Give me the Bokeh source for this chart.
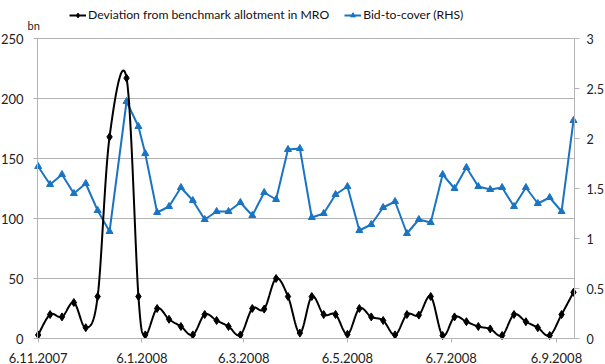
import numpy as np
import pandas as pd
from bokeh.plotting import figure
from bokeh.models import (ColumnDataSource, Range1d, LinearAxis, FixedTicker,
                          NumeralTickFormatter, Legend, LegendItem, Label)
from bokeh.embed import file_html
from bokeh.resources import INLINE

# Weekly main refinancing operations (MRO)
dates = [
    "2007-11-06", "2007-11-13", "2007-11-20", "2007-11-27", "2007-12-04", "2007-12-11",
    "2007-12-18", "2007-12-28", "2008-01-04", "2008-01-08", "2008-01-15", "2008-01-22",
    "2008-01-29", "2008-02-05", "2008-02-12", "2008-02-19", "2008-02-26", "2008-03-04",
    "2008-03-11", "2008-03-18", "2008-03-25", "2008-04-01", "2008-04-08", "2008-04-15",
    "2008-04-22", "2008-04-29", "2008-05-06", "2008-05-13", "2008-05-20", "2008-05-27",
    "2008-06-03", "2008-06-10", "2008-06-17", "2008-06-24", "2008-07-01", "2008-07-08",
    "2008-07-15", "2008-07-22", "2008-07-29", "2008-08-05", "2008-08-12", "2008-08-19",
    "2008-08-26", "2008-09-02", "2008-09-09", "2008-09-16",
]
# Deviation from benchmark allotment, EUR bn (left axis)
deviation = [
    3, 20, 18, 30, 9, 35,
    168, 217, 35, 3, 25, 16,
    10, 3, 20, 15, 10, 3,
    25, 24.5, 50, 35, 4.5, 35,
    20, 20, 3.5, 25, 18, 15,
    3, 20, 19.5, 35, 2.5, 18,
    14, 10, 8, 2.5, 20, 14,
    9, 2.5, 20, 38.5,
]
# Bid-to-cover ratio (right axis)
bid_to_cover = [
    1.72, 1.54, 1.64, 1.45, 1.55, 1.28,
    1.07, 2.37, 2.12, 1.85, 1.26, 1.32,
    1.51, 1.38, 1.19, 1.27, 1.27, 1.36,
    1.23, 1.46, 1.39, 1.89, 1.90, 1.21,
    1.25, 1.44, 1.52, 1.08, 1.14, 1.31,
    1.37, 1.05, 1.19, 1.16, 1.64, 1.50,
    1.71, 1.52, 1.49, 1.51, 1.32, 1.51,
    1.35, 1.41, 1.27, 2.18,
]
tick_dates = ["2007-11-06", "2008-01-06", "2008-03-06", "2008-05-06", "2008-07-06", "2008-09-06"]
tick_labels = ["6.11.2007", "6.1.2008", "6.3.2008", "6.5.2008", "6.7.2008", "6.9.2008"]
left_ticks = [0, 50, 100, 150, 200, 250]
right_ticks = [0, 0.5, 1, 1.5, 2, 2.5, 3]

FONT = "Lato"
BLUE = "#1a74c2"
GRID = "#b4b4b4"
DAY = 86400000

# canvas layout (pixels): the plotting area sits inside a full-canvas frame
W, H = 605, 364
PL, PR, PT, PB = 37, 574, 38, 338


def to_ms(values):
    return pd.to_datetime(values).values.astype("datetime64[ms]").astype("int64").astype(float)


def smooth_curve(xs, ys, n=30):
    """Cubic Bezier spline through the points (Catmull-Rom style tangents)."""
    xs = np.asarray(xs, float)
    ys = np.asarray(ys, float)
    N = len(xs)
    out_x, out_y = [], []
    for i in range(N - 1):
        i0 = max(i - 1, 0)
        i3 = min(i + 2, N - 1)
        x0, y0 = xs[i0], ys[i0]
        x1, y1 = xs[i], ys[i]
        x2, y2 = xs[i + 1], ys[i + 1]
        x3, y3 = xs[i3], ys[i3]
        c1x, c1y = x1 + (x2 - x0) / 6, y1 + (y2 - y0) / 6
        c2x, c2y = x2 - (x3 - x1) / 6, y2 - (y3 - y1) / 6
        t = np.linspace(0, 1, n, endpoint=(i == N - 2))
        a, b, c, d = (1 - t) ** 3, 3 * (1 - t) ** 2 * t, 3 * (1 - t) * t ** 2, t ** 3
        out_x.extend(a * x1 + b * c1x + c * c2x + d * x2)
        out_y.extend(a * y1 + b * c1y + c * c2y + d * y2)
    return out_x, out_y


def padded(lo, hi, p_lo, p_hi, p_start, p_end):
    """Range whose [lo, hi] lands on pixels [p_lo, p_hi] of a p_start..p_end span."""
    per_px = (hi - lo) / (p_hi - p_lo)
    return Range1d(lo - (p_lo - p_start) * per_px, hi + (p_end - p_hi) * per_px)


x_ms = to_ms(dates)
tick_ms = to_ms(tick_dates)
src = ColumnDataSource(dict(x=x_ms, dev=deviation, btc=bid_to_cover))
sx, sy = smooth_curve(x_ms, deviation)

x_lo, x_hi = x_ms[0] - 0.4 * DAY, x_ms[-1] + 0.6 * DAY
y_lo, y_hi = left_ticks[0], left_ticks[-1]
r_lo, r_hi = right_ticks[0], right_ticks[-1]

p = figure(width=W, height=H, output_backend="svg", toolbar_location=None,
           x_range=padded(x_lo, x_hi, PL, PR, 0, W),
           y_range=padded(y_lo, y_hi, H - PB, H - PT, 0, H),
           min_border=0, background_fill_color="white", border_fill_color="white")
p.outline_line_color = None
p.extra_y_ranges = {"btc": padded(r_lo, r_hi, H - PB, H - PT, 0, H)}
p.xgrid.visible = False
p.ygrid.visible = False

# horizontal gridlines across the plotting area
p.segment(x0=[x_lo] * len(left_ticks), x1=[x_hi] * len(left_ticks), y0=left_ticks, y1=left_ticks,
          line_color=GRID, line_width=1)

# left axis
ya = p.yaxis[0]
ya.fixed_location = x_lo
ya.bounds = (y_lo, y_hi)
ya.ticker = FixedTicker(ticks=left_ticks)
ya.axis_line_color = GRID
ya.major_tick_line_color = GRID
ya.major_tick_out = 4
ya.major_tick_in = 0
ya.minor_tick_line_color = None
ya.major_label_standoff = 10
ya.major_label_text_font = FONT
ya.major_label_text_font_size = "13px"
ya.major_label_text_color = "#222222"

# right axis
ra = LinearAxis(y_range_name="btc", ticker=FixedTicker(ticks=right_ticks),
                formatter=NumeralTickFormatter(format="0.[0]"),
                fixed_location=x_hi, bounds=(r_lo, r_hi))
ra.axis_line_color = GRID
ra.major_tick_line_color = GRID
ra.major_tick_out = 5
ra.major_tick_in = 0
ra.minor_tick_line_color = None
ra.major_label_standoff = 7
ra.major_label_text_font = FONT
ra.major_label_text_font_size = "12.5px"
ra.major_label_text_color = "#222222"
p.add_layout(ra, "right")

# bottom axis
xa = p.xaxis[0]
xa.fixed_location = y_lo
xa.bounds = (x_lo, x_hi)
xa.ticker = FixedTicker(ticks=list(tick_ms))
xa.major_label_overrides = {int(t): lab for t, lab in zip(tick_ms, tick_labels)}
xa.axis_line_color = GRID
xa.major_tick_line_color = GRID
xa.major_tick_out = 4
xa.major_tick_in = 0
xa.minor_tick_line_color = None
xa.major_label_standoff = 10
xa.major_label_text_font = FONT
xa.major_label_text_font_size = "13px"
xa.major_label_text_color = "#222222"

# series
blue_line = p.line("x", "btc", source=src, y_range_name="btc", line_color=BLUE, line_width=2)
blue_pts = p.scatter("x", "btc", source=src, y_range_name="btc", marker="triangle",
                     size=7, fill_color=BLUE, line_color=BLUE)
black_line = p.line(sx, sy, line_color="black", line_width=2)
black_pts = p.scatter("x", "dev", source=src, marker="diamond", size=8,
                      fill_color="black", line_color="black")

legend = Legend(items=[
    LegendItem(label="Deviation from benchmark allotment in MRO", renderers=[black_line, black_pts]),
    LegendItem(label="Bid-to-cover (RHS)", renderers=[blue_line, blue_pts]),
], location=(69, H - 22), orientation="horizontal")
legend.label_text_font = FONT
legend.label_text_font_size = "12.2px"
legend.label_text_color = "#111111"
legend.glyph_width = 17
legend.glyph_height = 12
legend.label_standoff = 2
legend.spacing = 15
legend.padding = 0
legend.margin = 0
legend.border_line_color = None
legend.background_fill_alpha = 0
legend.label_height = 14
p.add_layout(legend, "center")

p.add_layout(Label(x=27, y=H - 25, x_units="screen", y_units="screen", text="bn",
                   text_font=FONT, text_font_size="11px", text_baseline="middle",
                   text_color="#222222"))

open("out.html", "w").write(file_html(p, INLINE))
